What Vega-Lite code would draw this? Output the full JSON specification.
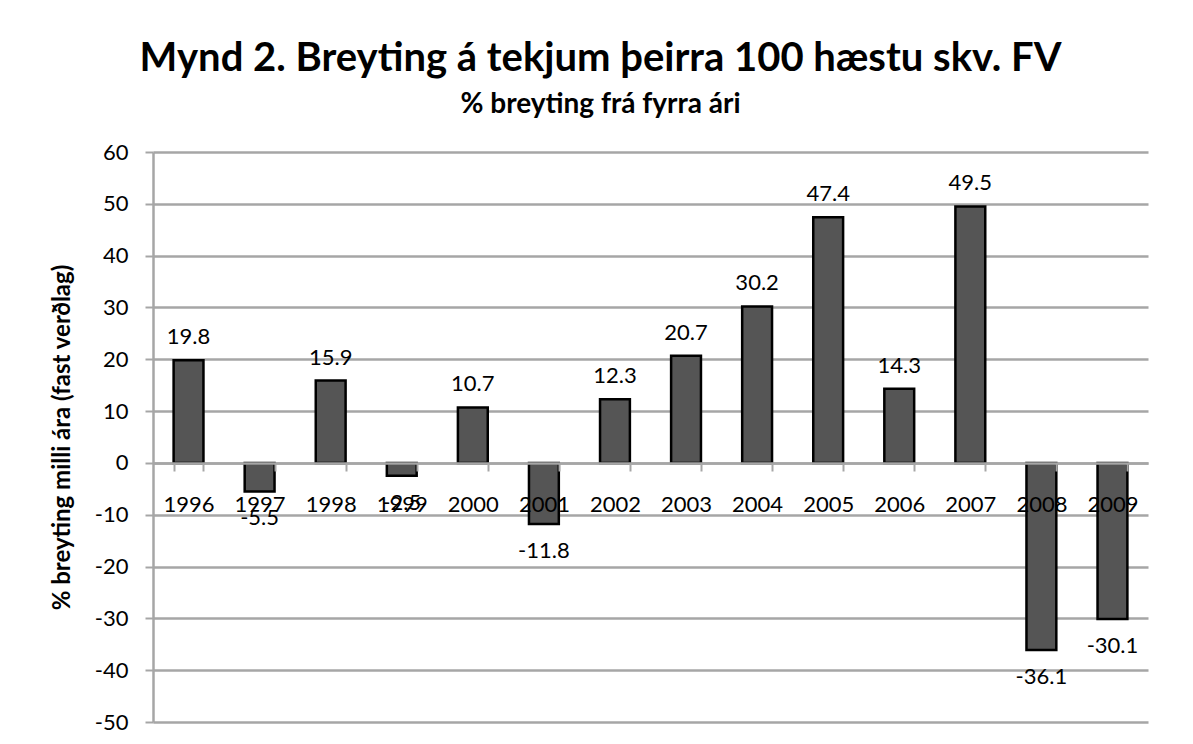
{
  "$schema": "https://vega.github.io/schema/vega-lite/v6.json",
  "width": 995,
  "height": 570,
  "autosize": {"type": "none"},
  "padding": {"left": 153, "top": 152, "right": 45, "bottom": 22},
  "background": "white",
  "config": {
    "font": "Lato",
    "view": {"stroke": null},
    "axis": {"labelFont": "Lato", "titleFont": "Lato"}
  },
  "title": {
    "text": "Mynd 2. Breyting á tekjum þeirra 100 hæstu skv. FV",
    "subtitle": "% breyting frá fyrra ári",
    "font": "Lato",
    "fontSize": 40,
    "fontWeight": "bold",
    "color": "black",
    "subtitleFont": "Lato",
    "subtitleFontSize": 28,
    "subtitleFontWeight": "bold",
    "subtitleColor": "black",
    "subtitlePadding": 12,
    "anchor": "middle",
    "offset": 22,
    "dx": -50
  },
  "data": {
    "values": [
      {"year": "1996", "value": 19.8},
      {"year": "1997", "value": -5.5},
      {"year": "1998", "value": 15.9},
      {"year": "1999", "value": -2.5},
      {"year": "2000", "value": 10.7},
      {"year": "2001", "value": -11.8},
      {"year": "2002", "value": 12.3},
      {"year": "2003", "value": 20.7},
      {"year": "2004", "value": 30.2},
      {"year": "2005", "value": 47.4},
      {"year": "2006", "value": 14.3},
      {"year": "2007", "value": 49.5},
      {"year": "2008", "value": -36.1},
      {"year": "2009", "value": -30.1}
    ]
  },
  "encoding": {
    "x": {
      "field": "year",
      "type": "ordinal",
      "sort": null,
      "scale": {"paddingInner": 0.58, "paddingOuter": 0.29},
      "axis": {
        "title": null,
        "orient": "bottom",
        "offset": -259,
        "zindex": 1,
        "labelAngle": 0,
        "labelFontSize": 22,
        "labelColor": "black",
        "labelPadding": 23,
        "tickBand": "extent",
        "tickSize": 8,
        "tickWidth": 2,
        "tickColor": "#a6a6a6",
        "domainColor": "#a6a6a6",
        "domainWidth": 2.5,
        "grid": false
      }
    },
    "y": {
      "field": "value",
      "type": "quantitative",
      "scale": {"domain": [-50, 60], "nice": false, "zero": false},
      "axis": {
        "title": "% breyting milli ára (fast verðlag)",
        "titleFontSize": 24,
        "titleFontWeight": "bold",
        "titleColor": "black",
        "titlePadding": 20,
        "values": [-50, -40, -30, -20, -10, 0, 10, 20, 30, 40, 50, 60],
        "labelExpr": "datum.value + ''",
        "labelFontSize": 22,
        "labelColor": "black",
        "labelPadding": 17,
        "tickSize": 8,
        "tickWidth": 2,
        "tickColor": "#a6a6a6",
        "domainColor": "#a6a6a6",
        "domainWidth": 2.5,
        "grid": true,
        "gridColor": "#a6a6a6",
        "gridWidth": 2.5
      }
    }
  },
  "layer": [
    {
      "mark": {"type": "bar", "color": "#555555", "stroke": "black", "strokeWidth": 2.5}
    },
    {
      "transform": [{"filter": "datum.value >= 0"}],
      "mark": {"type": "text", "baseline": "alphabetic", "dy": -16, "fontSize": 22, "font": "Lato", "color": "black"},
      "encoding": {"text": {"field": "value", "type": "nominal"}}
    },
    {
      "transform": [{"filter": "datum.value < 0"}],
      "mark": {"type": "text", "baseline": "top", "dy": 17, "fontSize": 22, "font": "Lato", "color": "black"},
      "encoding": {"text": {"field": "value", "type": "nominal"}}
    }
  ]
}
